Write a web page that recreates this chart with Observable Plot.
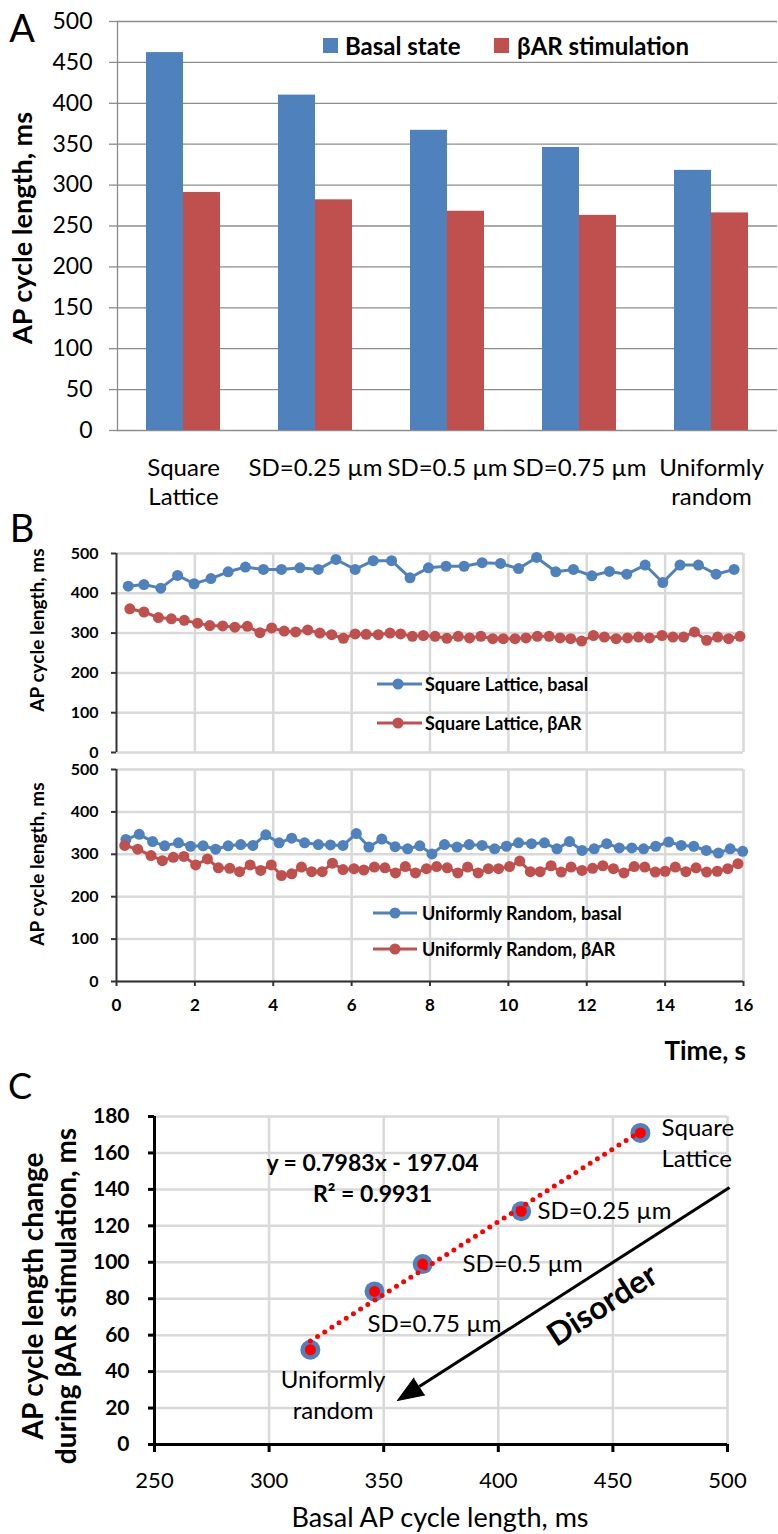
<!DOCTYPE html>
<html>
<head>
<meta charset="utf-8">
<script src="https://cdn.jsdelivr.net/npm/d3@7"></script>
<script src="https://cdn.jsdelivr.net/npm/@observablehq/plot@0.6"></script>
<style>
html,body{margin:0;padding:0;background:#fff;}
#fig{position:relative;width:778px;height:1534px;overflow:hidden;background:#fff;font-family:Lato,"Open Sans",sans-serif;color:#000;}
.t{position:absolute;white-space:pre;line-height:1;text-align:center;}
</style>
</head>
<body>
<div id="fig"></div>
<script>
const FONT = 'Lato, "Open Sans", sans-serif';
const BLUE = "#4F81BD", RED = "#C0504D", BRIGHT_RED = "#FF0000";

// ---------- Panel A data ----------
const categories = ["Square Lattice", "SD=0.25 µm", "SD=0.5 µm", "SD=0.75 µm", "Uniformly random"];
const categoryLabels = ["Square\nLattice", "SD=0.25 µm", "SD=0.5 µm", "SD=0.75 µm", "Uniformly\nrandom"];
const seriesA = ["Basal state", "βAR stimulation"];
const basalCL = [462, 410, 367, 346, 318];
const barCL = [291, 282, 268, 263, 266];
const ticksA = [0, 50, 100, 150, 200, 250, 300, 350, 400, 450, 500];

// ---------- Panel B data ----------
const seriesB = ["Square Lattice, basal", "Square Lattice, βAR", "Uniformly Random, basal", "Uniformly Random, βAR"];
const slBasalT = [0.30,0.70,1.13,1.56,1.98,2.41,2.85,3.29,3.75,4.21,4.68,5.15,5.60,6.09,6.55,7.02,7.49,7.96,8.41,8.87,9.33,9.80,10.26,10.72,11.21,11.66,12.13,12.58,13.02,13.49,13.94,14.38,14.85,15.30,15.76];
const slBasalV = [418,422,413,445,424,437,454,466,460,460,464,460,485,460,482,482,439,464,468,468,477,475,462,490,454,460,444,455,448,471,427,471,471,448,460];
const slBarT = [0.34,0.70,1.07,1.40,1.73,2.07,2.38,2.71,3.02,3.34,3.66,3.96,4.28,4.57,4.88,5.19,5.49,5.79,6.09,6.37,6.68,6.98,7.25,7.55,7.83,8.13,8.43,8.72,9.01,9.30,9.60,9.87,10.17,10.45,10.74,11.04,11.32,11.59,11.87,12.17,12.45,12.75,13.04,13.32,13.60,13.92,14.20,14.47,14.75,15.06,15.34,15.62,15.91];
const slBarV = [361,353,339,336,332,325,319,318,315,317,301,313,305,303,308,300,296,287,298,297,296,300,298,292,294,292,287,292,288,292,286,286,286,288,292,292,288,286,280,294,290,286,288,290,288,294,290,290,303,282,290,286,292];
const urBasalT = [0.24,0.58,0.92,1.23,1.58,1.89,2.21,2.53,2.85,3.17,3.48,3.81,4.15,4.47,4.80,5.15,5.46,5.78,6.12,6.44,6.77,7.11,7.43,7.74,8.05,8.37,8.69,9.00,9.33,9.65,9.95,10.26,10.59,10.92,11.24,11.56,11.88,12.19,12.51,12.83,13.15,13.45,13.76,14.09,14.41,14.73,15.05,15.36,15.66,15.98];
const urBasalV = [335,347,330,320,327,319,320,312,320,323,321,346,327,338,327,323,322,321,349,317,336,318,313,320,301,323,317,323,321,313,319,327,325,327,313,330,309,313,325,315,315,313,319,329,321,319,309,303,313,307];
const urBarT = [0.21,0.54,0.88,1.17,1.45,1.72,2.02,2.32,2.60,2.89,3.14,3.41,3.68,3.95,4.21,4.47,4.72,4.98,5.25,5.51,5.78,6.06,6.31,6.58,6.85,7.12,7.37,7.63,7.91,8.17,8.44,8.71,8.96,9.23,9.49,9.75,10.03,10.29,10.56,10.81,11.09,11.35,11.60,11.88,12.15,12.41,12.68,12.95,13.21,13.48,13.75,14.00,14.26,14.53,14.79,15.06,15.33,15.60,15.86];
const urBarV = [321,312,297,285,293,295,275,289,268,267,259,275,262,275,250,254,270,259,259,279,264,266,263,270,268,256,271,256,266,271,268,256,270,256,266,266,271,284,259,259,273,258,270,262,267,273,266,256,271,270,258,260,270,259,268,258,260,266,278];
const ticksBY = [0, 100, 200, 300, 400, 500];
const ticksBX = [0, 2, 4, 6, 8, 10, 12, 14, 16];

// ---------- Panel C data ----------
const changeCL = [171, 128, 99, 84, 52];            // basal - βAR (y), basal on x = basalCL
const trendX = [318, 462];                           // dotted trend line ends (y = 0.7983x - 197.04)
const trendY = [56.8, 171.8];
const ticksCX = [250, 300, 350, 400, 450, 500];
const ticksCY = [0, 20, 40, 60, 80, 100, 120, 140, 160, 180];
const pointNotes = ["Square\nLattice", "SD=0.25 µm", "SD=0.5 µm", "SD=0.75 µm"];
const pointNoteX = [471.2, 417.1, 384.4, 342.9];
const pointNoteY = [166.0, 129.0, 99.9, 67.0];
const centeredNotes = ["Uniformly\nrandom", "y = 0.7983x - 197.04", "R² = 0.9931"];
const centeredNoteX = [327.9, 345.1, 345.1];
const centeredNoteY = [27.7, 154.2, 137.2];
const arrowFrom = [500.9, 141.0];
const arrowTo = [356.0, 24.1];
const disorderLabel = "Disorder";
const disorderAt = [445.5, 76.3];

// ---------- helpers ----------
const fig = document.getElementById("fig");
function put(node, top, left = 0) {
  node.style.position = "absolute";
  node.style.top = top + "px";
  node.style.left = left + "px";
  fig.appendChild(node);
  return node;
}
function txt(s, x, y, {size = 16, weight = "normal", anchor = "middle", rotate = 0, lh = 1, style = ""} = {}) {
  const d = document.createElement("div");
  d.className = "t";
  d.textContent = s;
  d.style.left = x + "px";
  d.style.top = y + "px";
  d.style.fontSize = size + "px";
  d.style.fontWeight = weight;
  d.style.lineHeight = lh;
  const tx = anchor === "start" ? "0" : anchor === "end" ? "-100%" : "-50%";
  d.style.transform = `translate(${tx},-50%)` + (rotate ? ` rotate(${rotate}deg)` : "");
  if (style) d.style.cssText += style;
  fig.appendChild(d);
  return d;
}
const baseStyle = {fontFamily: FONT, background: "transparent", overflow: "visible", color: "black"};

// ---------- Panel A ----------
const dataA = categories.flatMap((c, i) => [
  {cat: c, series: seriesA[0], value: basalCL[i]},
  {cat: c, series: seriesA[1], value: barCL[i]}
]);
const catLabel = new Map(categories.map((c, i) => [c, categoryLabels[i]]));
const plotA = Plot.plot({
  width: 778, height: 540,
  marginTop: 21, marginBottom: 110, marginLeft: 115, marginRight: 0,
  style: baseStyle,
  fx: {domain: categories, padding: 0, axis: null},
  x: {domain: seriesA, paddingInner: 0, paddingOuter: 0.745, axis: null},
  y: {domain: [0, 500], axis: null},
  color: {domain: seriesA, range: [BLUE, RED]},
  marks: [
    Plot.gridY(ticksA, {stroke: "#8c8c8c", strokeOpacity: 1, strokeWidth: 1.3}),
    Plot.barY(dataA, {fx: "cat", x: "series", y: "value", fill: "series"}),
    Plot.frame({anchor: "left", facetAnchor: "left", stroke: "#8c8c8c", strokeWidth: 1.3}),
    Plot.axisY(ticksA, {tickSize: 8, tickPadding: 17, stroke: "#8c8c8c", strokeWidth: 1.3, fill: "black", fontSize: 23, label: null}),
    Plot.axisFx({anchor: "bottom", tickSize: 0, tickPadding: 25, fontSize: 24, lineHeight: 1.2, label: null, tickFormat: (d) => catLabel.get(d)})
  ]
});
put(plotA, 0);

// Panel A legend
function swatch(color, x, y) {
  const s = document.createElement("div");
  s.style.cssText = `position:absolute;left:${x}px;top:${y}px;width:15px;height:15px;background:${color};`;
  fig.appendChild(s);
}
swatch(BLUE, 323, 38);
txt(seriesA[0], 345, 46, {size: 24, weight: "bold", anchor: "start"});
swatch(RED, 494, 38);
txt(seriesA[1], 517, 46, {size: 24, weight: "bold", anchor: "start"});

txt("AP cycle length, ms", 21, 228, {size: 27, weight: "bold", rotate: -90});
txt("A", 22, 27, {size: 38});

// ---------- Panel B ----------
const toRows = (T, V) => T.map((t, i) => ({t, v: V[i]}));
function lineChart({series, height, mt, mb, xAxis}) {
  const marks = [
    Plot.gridX([2, 4, 6, 8, 10, 12, 14, 16], {stroke: "#d9d9d9", strokeOpacity: 1, strokeWidth: 2.5}),
    Plot.gridY(ticksBY, {stroke: "#d9d9d9", strokeOpacity: 1, strokeWidth: 2.5})
  ];
  if (xAxis) {
    marks.push(Plot.ruleY([0], {stroke: "#333", strokeWidth: 2}));
    marks.push(Plot.axisX(ticksBX, {tickSize: 5, tickPadding: 12, stroke: "#333", strokeWidth: 2, fill: "black", fontSize: 17, fontWeight: "bold", label: null}));
  }
  marks.push(Plot.ruleX([0], {stroke: "#333", strokeWidth: 2}));
  for (const s of series) {
    marks.push(Plot.line(s.rows, {x: "t", y: "v", stroke: s.color, strokeWidth: 3}));
    marks.push(Plot.dot(s.rows, {x: "t", y: "v", r: 5.5, fill: s.color}));
  }
  marks.push(Plot.axisY(ticksBY, {tickSize: 5, tickPadding: 13, stroke: "#333", strokeWidth: 2, fill: "black", fontSize: 16, fontWeight: "bold", label: null}));
  return Plot.plot({
    width: 778, height, marginTop: mt, marginBottom: mb, marginLeft: 116, marginRight: 35,
    style: baseStyle,
    x: {domain: [0, 16], axis: null},
    y: {domain: [0, 500], axis: null},
    marks
  });
}
put(lineChart({
  series: [{rows: toRows(slBasalT, slBasalV), color: BLUE}, {rows: toRows(slBarT, slBarV), color: RED}],
  height: 230, mt: 13, mb: 18, xAxis: false
}), 540);
put(lineChart({
  series: [{rows: toRows(urBasalT, urBasalV), color: BLUE}, {rows: toRows(urBarT, urBarV), color: RED}],
  height: 270, mt: 19, mb: 39, xAxis: true
}), 750);

function legendB(label, color, x1, x2, cx, y, textX, size) {
  const svg = d3.create("svg").attr("width", x2 - x1 + 2).attr("height", 14);
  svg.append("line").attr("x1", 0).attr("x2", x2 - x1).attr("y1", 7).attr("y2", 7).attr("stroke", color).attr("stroke-width", 3);
  svg.append("circle").attr("cx", cx - x1).attr("cy", 7).attr("r", 5.5).attr("fill", color);
  const n = svg.node();
  n.style.position = "absolute"; n.style.left = x1 + "px"; n.style.top = (y - 7) + "px";
  fig.appendChild(n);
  txt(label, textX, y, {size, weight: "bold", anchor: "start"});
}
legendB(seriesB[0], BLUE, 377, 422, 398, 684, 425, 18);
legendB(seriesB[1], RED, 377, 422, 398, 723, 425, 18);
legendB(seriesB[2], BLUE, 373, 417, 395, 913, 422, 18);
legendB(seriesB[3], RED, 373, 417, 395, 949, 422, 18);

txt("AP cycle length, ms", 36, 630, {size: 19, weight: "bold", rotate: -90});
txt("AP cycle length, ms", 36, 864, {size: 19, weight: "bold", rotate: -90});
txt("Time, s", 746, 1050, {size: 26, weight: "bold", anchor: "end"});
txt("B", 22, 527, {size: 38});

// ---------- Panel C ----------
const C = {width: 778, height: 414, mt: 26, mb: 60, ml: 154, mr: 51};
const kx = (C.width - C.ml - C.mr) / (500 - 250);
const ky = (C.height - C.mt - C.mb) / 180;
const dxp = (arrowTo[0] - arrowFrom[0]) * kx;
const dyp = -(arrowTo[1] - arrowFrom[1]) * ky;
const plen = Math.hypot(dxp, dyp);
const headAngle = Math.atan2(dxp, -dyp) * 180 / Math.PI;
const textAngle = Math.atan2(-dyp, -dxp) * 180 / Math.PI;
const headLen = 26;
const arrowBase = [arrowTo[0] - headLen * dxp / plen / kx, arrowTo[1] + headLen * dyp / plen / ky];

const pointsC = basalCL.map((x, i) => ({x, y: changeCL[i]}));
const trendRows = trendX.map((x, i) => ({x, y: trendY[i]}));
const notesStart = pointNotes.map((text, i) => ({text, x: pointNoteX[i], y: pointNoteY[i]}));
const notesMid = centeredNotes.map((text, i) => ({text, x: centeredNoteX[i], y: centeredNoteY[i]}));

const plotC = Plot.plot({
  width: C.width, height: C.height,
  marginTop: C.mt, marginBottom: C.mb, marginLeft: C.ml, marginRight: C.mr,
  style: baseStyle,
  x: {domain: [250, 500], axis: null},
  y: {domain: [0, 180], axis: null},
  marks: [
    Plot.gridX(ticksCX, {stroke: "#d9d9d9", strokeOpacity: 1, strokeWidth: 2.5}),
    Plot.gridY(ticksCY, {stroke: "#d9d9d9", strokeOpacity: 1, strokeWidth: 2.5}),
    Plot.ruleX([250], {stroke: "black", strokeWidth: 3}),
    Plot.ruleY([0], {stroke: "black", strokeWidth: 3}),
    Plot.axisY(ticksCY, {tickSize: 6, tickPadding: 19, stroke: "black", strokeWidth: 3, fill: "black", fontSize: 21, fontWeight: "bold", label: null}),
    Plot.axisX(ticksCX, {tickSize: 8, tickPadding: 20, stroke: "black", strokeWidth: 3, fill: "black", fontSize: 22, label: null}),
    Plot.dot(pointsC, {x: "x", y: "y", r: 10, fill: BLUE}),
    Plot.line(trendRows, {x: "x", y: "y", stroke: BRIGHT_RED, strokeWidth: 5, strokeDasharray: "0 8.5", strokeLinecap: "round"}),
    Plot.dot(pointsC, {x: "x", y: "y", r: 5.5, fill: BRIGHT_RED}),
    Plot.link([{x1: arrowFrom[0], y1: arrowFrom[1], x2: arrowBase[0], y2: arrowBase[1]}], {x1: "x1", y1: "y1", x2: "x2", y2: "y2", stroke: "black", strokeWidth: 3}),
    Plot.vector([{x: arrowTo[0], y: arrowTo[1]}], {x: "x", y: "y", rotate: headAngle, length: headLen, r: 10, shape: "spike", anchor: "end", fill: "black", stroke: "black", strokeWidth: 1}),
    Plot.text(notesStart, {x: "x", y: "y", text: "text", textAnchor: "start", fontSize: 24, lineHeight: 1.29}),
    Plot.text(notesMid.slice(0, 1), {x: "x", y: "y", text: "text", fontSize: 24, lineHeight: 1.29}),
    Plot.text(notesMid.slice(1), {x: "x", y: "y", text: "text", fontSize: 23, fontWeight: "bold"}),
    Plot.text([{text: disorderLabel, x: disorderAt[0], y: disorderAt[1]}], {x: "x", y: "y", text: "text", fontSize: 32, fontWeight: "bold", rotate: textAngle})
  ]
});
put(plotC, 1090);

txt("AP cycle length change\nduring βAR stimulation, ms", 49, 1296, {size: 28, weight: "bold", rotate: -90, lh: 1.18});
txt("Basal AP cycle length, ms", 440, 1516, {size: 27});
txt("C", 20, 1085, {size: 36});
</script>
</body>
</html>
